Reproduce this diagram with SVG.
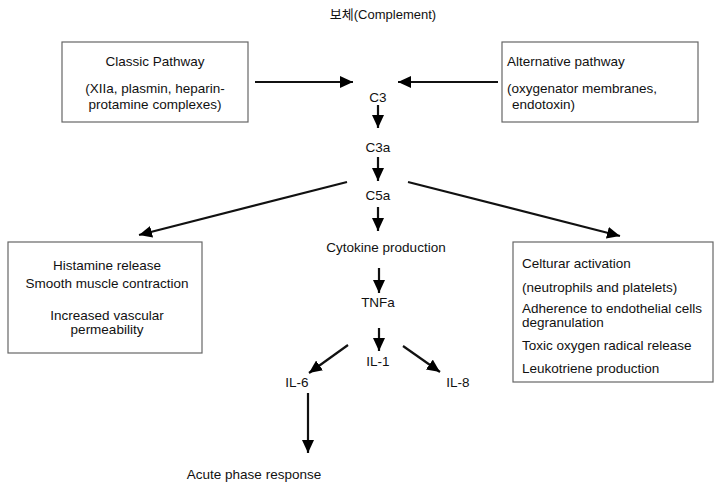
<svg xmlns="http://www.w3.org/2000/svg" width="720" height="484" viewBox="0 0 720 484">
<defs>
<marker id="ah" markerUnits="userSpaceOnUse" markerWidth="14" markerHeight="12" refX="13" refY="6" orient="auto">
<path d="M0,0 L13,6 L0,12 z" fill="#000"/>
</marker>
<style>
text{font-family:"Liberation Sans","Noto Sans CJK KR",sans-serif;font-size:13.5px;fill:#111}
.c{text-anchor:middle}
.box{fill:#fff;stroke:#666;stroke-width:1.2}
.ln{stroke:#111;stroke-width:2.2;fill:none;marker-end:url(#ah)}
</style>
</defs>
<rect width="720" height="484" fill="#fff"/>
<text id="title" x="383" y="19" class="c" style="font-size:13px">보체(Complement)</text>

<g id="classic">
<rect class="box" x="62" y="42" width="186" height="80"/>
<text x="155" y="66" class="c">Classic Pathway</text>
<text x="155" y="93" class="c">(XIIa, plasmin, heparin-</text>
<text x="155" y="109" class="c">protamine complexes)</text>
</g>
<g id="alternative">
<rect class="box" x="502" y="42" width="196" height="80"/>
<text x="507" y="66">Alternative pathway</text>
<text x="507" y="93">(oxygenator membranes,</text>
<text x="512" y="109">endotoxin)</text>
</g>
<g id="c3"><text x="378" y="102" class="c">C3</text></g>
<g id="c3a"><text x="378" y="152" class="c">C3a</text></g>
<g id="c5a"><text x="378" y="200" class="c">C5a</text></g>
<g id="cytokine"><text x="386" y="252" class="c">Cytokine production</text></g>
<g id="tnfa"><text x="378" y="307" class="c">TNFa</text></g>
<g id="il1"><text x="378" y="366" class="c">IL-1</text></g>
<g id="il6"><text x="297" y="387" class="c">IL-6</text></g>
<g id="il8"><text x="458" y="387" class="c">IL-8</text></g>
<g id="acute"><text x="254" y="479" class="c">Acute phase response</text></g>
<g id="histamine">
<rect class="box" x="8" y="242" width="194" height="111"/>
<text x="107" y="270" class="c">Histamine release</text>
<text x="107" y="288" class="c">Smooth muscle contraction</text>
<text x="107" y="320" class="c">Increased vascular</text>
<text x="107" y="334" class="c">permeability</text>
</g>
<g id="cellular">
<rect class="box" x="513" y="242" width="200" height="140"/>
<text x="522" y="268">Celturar activation</text>
<text x="522" y="292">(neutrophils and platelets)</text>
<text x="522" y="313">Adherence to endothelial cells</text>
<text x="522" y="327">degranulation</text>
<text x="522" y="350">Toxic oxygen radical release</text>
<text x="522" y="373">Leukotriene production</text>
</g>
<g id="connectors">
<line class="ln" x1="255" y1="82" x2="353" y2="82"/>
<line class="ln" x1="498" y1="82" x2="398" y2="82"/>
<line class="ln" x1="378" y1="105" x2="378" y2="128"/>
<line class="ln" x1="378" y1="157" x2="378" y2="181"/>
<line class="ln" x1="378" y1="207" x2="378" y2="231"/>
<line class="ln" x1="379" y1="268" x2="379" y2="293"/>
<line class="ln" x1="379" y1="328" x2="379" y2="351"/>
<line class="ln" x1="347" y1="182" x2="139" y2="235"/>
<line class="ln" x1="408" y1="182" x2="620" y2="236"/>
<line class="ln" x1="348" y1="345" x2="309" y2="373"/>
<line class="ln" x1="403" y1="346" x2="440" y2="372"/>
<line class="ln" x1="308" y1="393" x2="308" y2="453"/>
</g>
</svg>
